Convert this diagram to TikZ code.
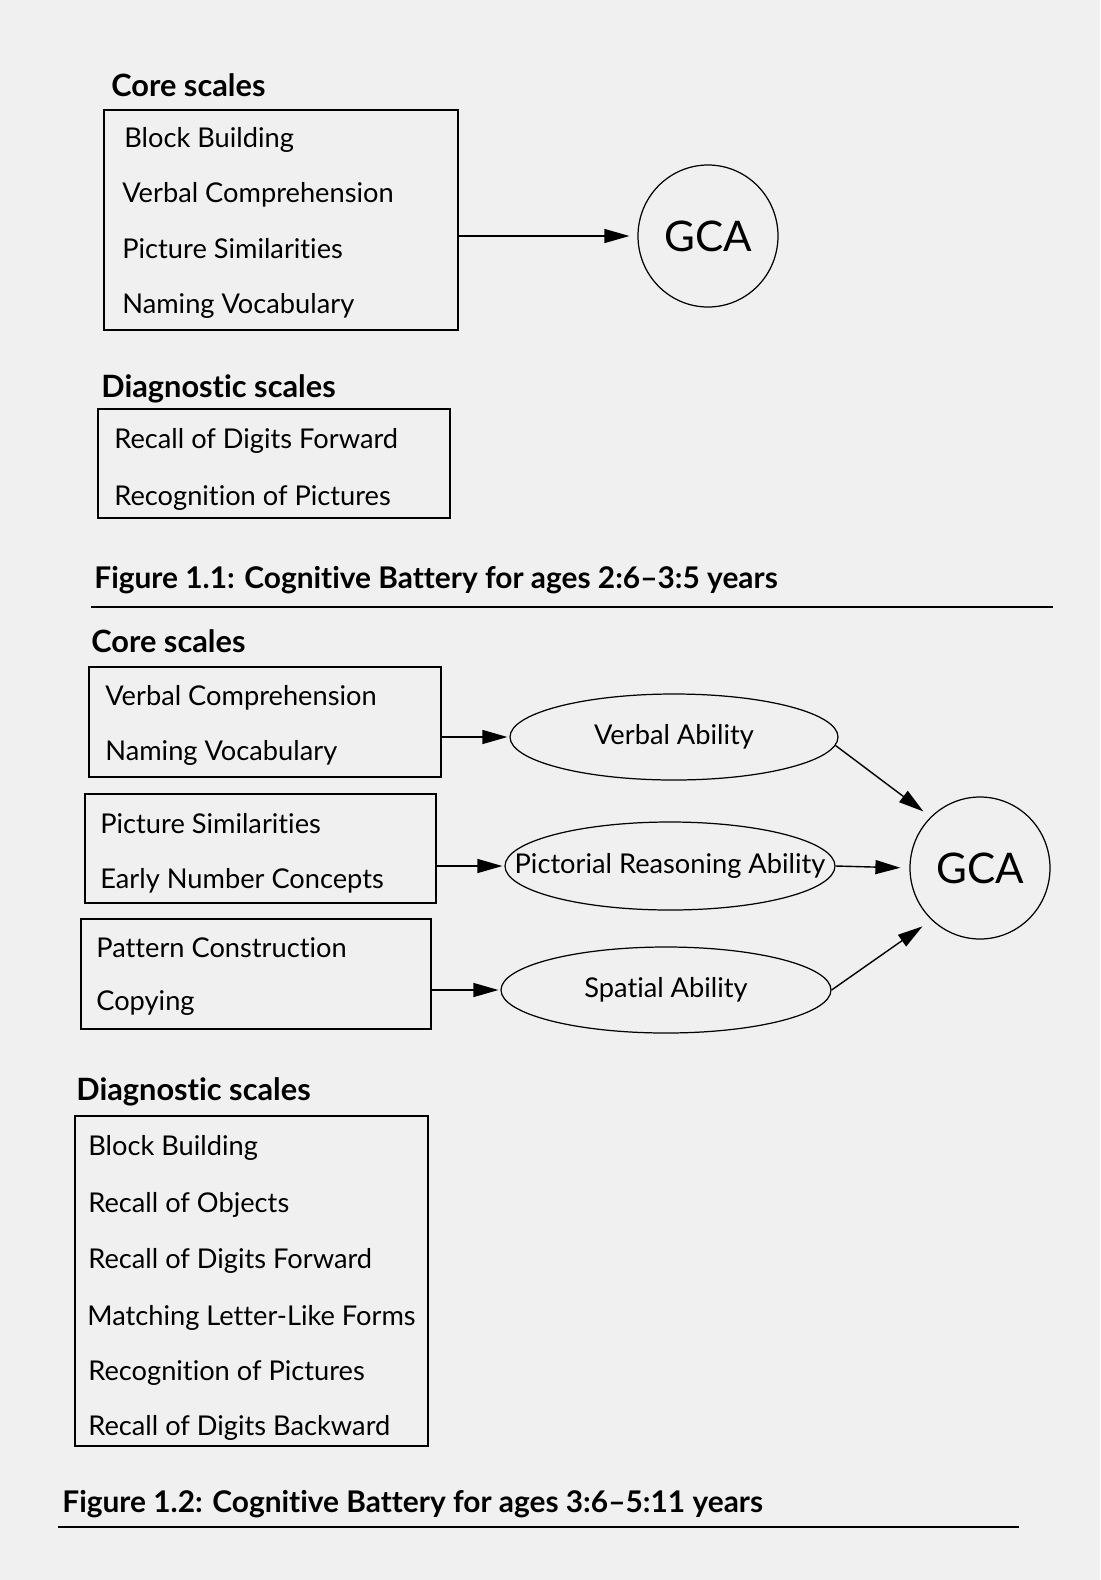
\documentclass[tikz,border=0pt]{standalone}
\usepackage{fontspec}
\setmainfont{Lato}[Ligatures=NoCommon]
\usetikzlibrary{arrows.meta, positioning, shapes.geometric}

\begin{document}
\begin{tikzpicture}[x=0.02cm, y=-0.02cm,
  scalebox/.style={draw, line width=0.9pt, anchor=north west, inner sep=0pt},
  scaleitem/.style={anchor=base west, inner sep=0pt, font=\fontsize{15.5}{18}\selectfont},
  heading/.style={anchor=base west, inner sep=0pt, font=\fontsize{17.5}{21}\selectfont\bfseries},
  caption/.style={anchor=base west, inner sep=0pt, font=\fontsize{17}{21}\selectfont\bfseries},
  ability/.style={draw, ellipse, line width=0.7pt, inner sep=0pt, font=\fontsize{15.5}{18}\selectfont},
  gca/.style={draw, ellipse, line width=0.7pt, inner sep=0pt, minimum width=140*\pxl, minimum height=142*\pxl, font=\fontsize{24}{28}\selectfont},
  link/.style={-{Triangle[length=0.5cm, width=0.28cm]}, line width=0.8pt},
  figrule/.style={line width=1.3pt}
]

% One pixel of the page
\def\pxl{0.02cm}

% Page
\fill[black!6] (0,0) rectangle (1100,1580);
\useasboundingbox (0,0) rectangle (1100,1580);

% Figure 1.1: core scales
\node[heading] (core1) at (111,96) {Core scales};
\node[scalebox, minimum width=354*\pxl, minimum height=220*\pxl] (box1) at (103,109) {};
\node[scaleitem] (blockA) at (124,147) {Block Building};
\node[scaleitem] (verbalA) at (122,202) {Verbal Comprehension};
\node[scaleitem] (pictureA) at (122,258) {Picture Similarities};
\node[scaleitem] (namingA) at (122,313) {Naming Vocabulary};

% GCA of the first battery
\node[gca] (gca1) at (708,236) {GCA};
\draw[link, shorten >=0.16cm] (box1.east |- gca1.west) -- (gca1.west);

% Figure 1.1: diagnostic scales
\node[heading] (diag1) at (101,397) {Diagnostic scales};
\node[scalebox, minimum width=352*\pxl, minimum height=109*\pxl] (box2) at (97,408) {};
\node[scaleitem] (digitsA) at (114,448) {Recall of Digits Forward};
\node[scaleitem] (recogA) at (114,505) {Recognition of Pictures};

% Caption 1.1
\node[caption] (fig1) at (94,588) {Figure 1.1: Cognitive Battery for ages 2:6–3:5 years};
\draw[figrule] (91,607) -- (1053,607);

% Figure 1.2: core scales in three boxes
\node[heading] (core2) at (91,652) {Core scales};
\node[scalebox, minimum width=352*\pxl, minimum height=110*\pxl] (boxA) at (88,666) {};
\node[scaleitem] (verbalB) at (105,705) {Verbal Comprehension};
\node[scaleitem] (namingB) at (105,760) {Naming Vocabulary};

\node[scalebox, minimum width=351*\pxl, minimum height=109*\pxl] (boxB) at (84,793) {};
\node[scaleitem] (pictureB) at (100,833) {Picture Similarities};
\node[scaleitem] (numberB) at (100,888) {Early Number Concepts};

\node[scalebox, minimum width=350*\pxl, minimum height=110*\pxl] (boxC) at (80,918) {};
\node[scaleitem] (patternB) at (96,957) {Pattern Construction};
\node[scaleitem] (copyingB) at (96,1010) {Copying};

% Abilities
\node[ability, minimum width=328*\pxl, minimum height=86*\pxl] (verbal) at (674,737) {\makebox[0pt]{Verbal Ability}};
\node[ability, minimum width=330*\pxl, minimum height=88*\pxl] (pictorial) at (670,866) {\makebox[0pt]{Pictorial Reasoning Ability}};
\node[ability, minimum width=330*\pxl, minimum height=86*\pxl] (spatial) at (666,990) {\makebox[0pt]{Spatial Ability}};
\node[gca] (gca2) at (980,868) {GCA};

% Links
\draw[link, shorten >=0.04cm] (boxA.east |- verbal.west) -- (verbal.west);
\draw[link, shorten >=0.04cm] (boxB.east |- pictorial.west) -- (pictorial.west);
\draw[link, shorten >=0.04cm] (boxC.east |- spatial.west) -- (spatial.west);
\draw[link, shorten >=0.18cm] (verbal.-3) -- (gca2.134);
\draw[link, shorten >=0.18cm] (pictorial.east) -- (gca2.west);
\draw[link, shorten >=0.22cm] (spatial.east) -- (gca2.227);

% Figure 1.2: diagnostic scales
\node[heading] (diag2) at (76,1100) {Diagnostic scales};
\node[scalebox, minimum width=353*\pxl, minimum height=330*\pxl] (boxD) at (74,1115) {};
\node[scaleitem] (blockB) at (88,1155) {Block Building};
\node[scaleitem] (objectsB) at (88,1212) {Recall of Objects};
\node[scaleitem] (digitsB) at (88,1268) {Recall of Digits Forward};
\node[scaleitem] (letterB) at (87,1325) {Matching Letter-Like Forms};
\node[scaleitem] (recogB) at (88,1380) {Recognition of Pictures};
\node[scaleitem] (backwardB) at (88,1435) {Recall of Digits Backward};

% Caption 1.2
\node[caption] (fig2) at (62,1512) {Figure 1.2: Cognitive Battery for ages 3:6–5:11 years};
\draw[figrule] (58,1527) -- (1019,1527);

\end{tikzpicture}
\end{document}
